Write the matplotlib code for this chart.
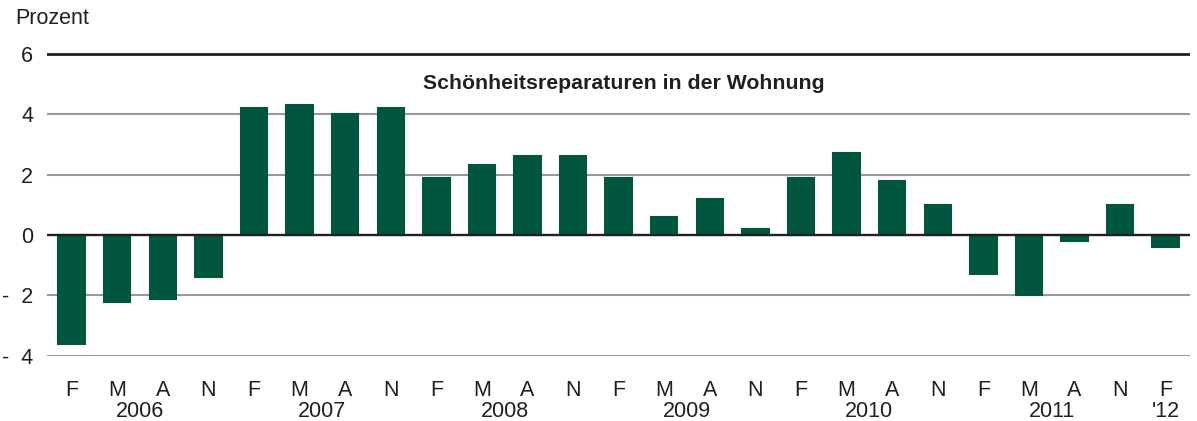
import matplotlib.pyplot as plt

plt.rcParams['font.family'] = ['Liberation Sans', 'DejaVu Sans']

months = ['F', 'M', 'A', 'N'] * 6 + ['F']
years = ['2006', '2007', '2008', '2009', '2010', '2011', "'12"]
values = [-3.6, -2.2, -2.1, -1.4,
          4.2, 4.3, 4.0, 4.2,
          1.9, 2.3, 2.6, 2.6,
          1.9, 0.6, 1.2, 0.2,
          1.9, 2.7, 1.8, 1.0,
          -1.3, -2.0, -0.2, 1.0,
          -0.4]
yticks = [-4, -2, 0, 2, 4, 6]
ytick_labels = ['-  4', '-  2', '0', '2', '4', '6']
title = 'Schönheitsreparaturen in der Wohnung'

green = '#00563f'
text_color = '#231f20'
fs = 15.5

fig = plt.figure(figsize=(11.97, 4.21), dpi=100)
ax = fig.add_axes([0.0393, 0.1544, 0.9547, 0.7221])

x = list(range(len(values)))
ax.bar(x, values, width=0.58, color=green, edgecolor=green, linewidth=1.5, zorder=2)

# grid lines
for t in yticks:
	if t == 6:
		ax.axhline(t, color='#231f20', linewidth=2.0, zorder=3)
	elif t == 0:
		ax.axhline(t, color='#231f20', linewidth=1.7, zorder=3)
	else:
		ax.axhline(t, color='#999999', linewidth=1.5, zorder=1)

ax.set_xlim(-0.54, 24.53)
ax.set_ylim(-4, 6.05)
ax.set_yticks(yticks)
ax.set_yticklabels(ytick_labels, fontsize=fs, color=text_color)
ax.tick_params(axis='y', length=0, pad=10)
ax.set_xticks(x)
ax.set_xticklabels(months, fontsize=fs, color=text_color)
ax.tick_params(axis='x', length=0, pad=17)
for s in ax.spines.values():
	s.set_visible(False)

# year labels
trans = ax.get_xaxis_transform()
for i, yr in enumerate(years):
	if i < 6:
		xc = i * 4 + 1.5
	else:
		xc = i * 4
	ax.text(xc, -0.183, yr, transform=trans, ha='center', va='center',
		fontsize=fs, color=text_color)

ax.text(12.12, 5.0, title, ha='center', va='center', fontsize=15.3,
	fontweight='bold', color=text_color)

fig.text(15 / 1197, 1 - 19 / 421, 'Prozent', ha='left', va='center',
	fontsize=fs, color=text_color)

plt.savefig('out.png', dpi=100)
